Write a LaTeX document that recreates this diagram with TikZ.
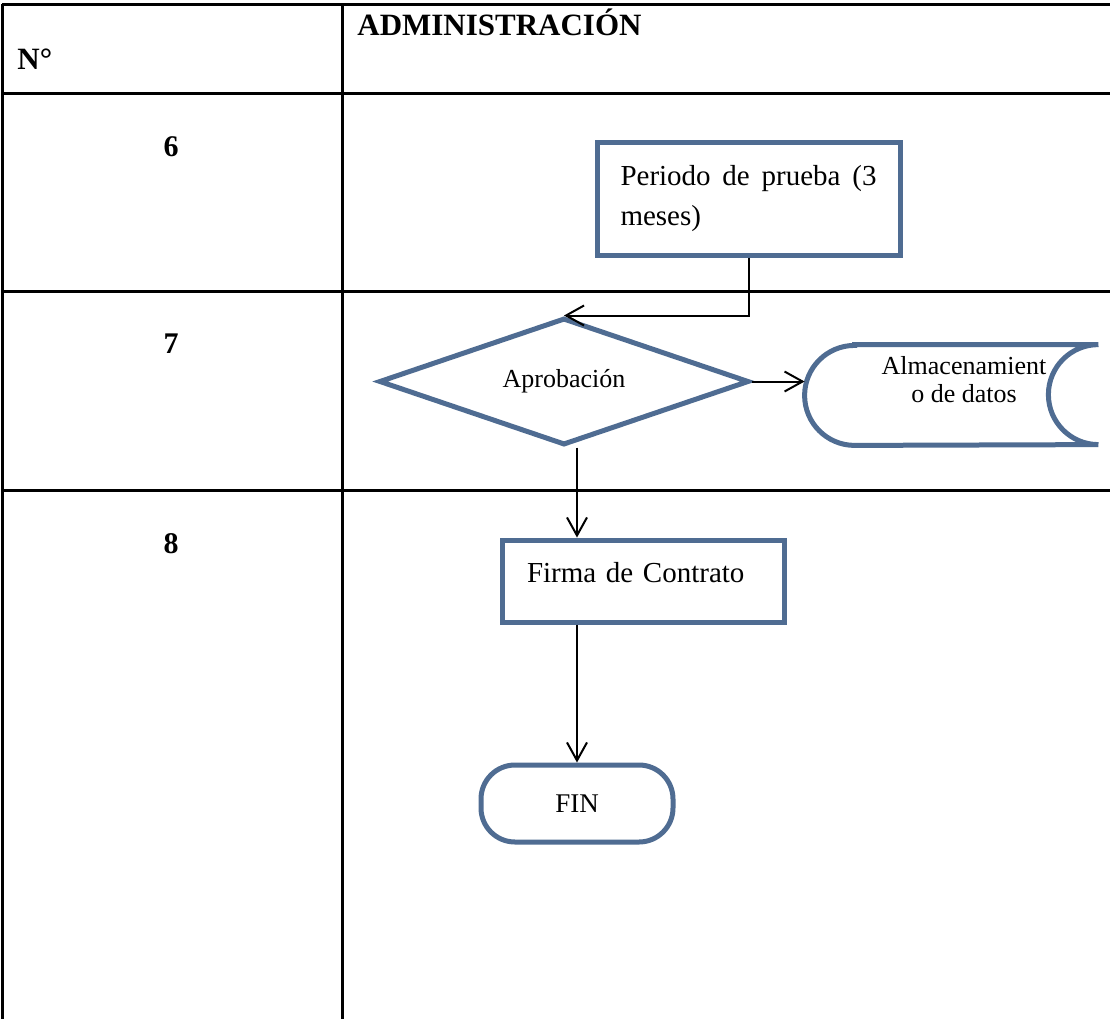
\documentclass[tikz,border=0pt]{standalone}
\usepackage{fontspec}
\setmainfont{Liberation Serif}
\usetikzlibrary{positioning, arrows.meta, shapes.geometric}
\definecolor{shapeblue}{RGB}{79,108,146}

\begin{document}
\begin{tikzpicture}[x=0.5pt, y=-0.5pt,
    % Styles
    tabline/.style={line width=1.5pt, black},
    header/.style={font=\fontsize{15.5}{18}\selectfont\bfseries, inner sep=0pt},
    rownum/.style={font=\fontsize{15}{18}\selectfont\bfseries, inner sep=0pt},
    procbox/.style={draw=shapeblue, line width=2.5pt, fill=white, font=\fontsize{14.5}{20}\selectfont},
    decision/.style={diamond, aspect=2.9, draw=shapeblue, line width=2.5pt, fill=white, minimum width=185pt, minimum height=63.5pt, inner sep=0pt, font=\fontsize{13}{15}\selectfont},
    storeline/.style={draw=shapeblue, line width=2.5pt, line cap=round, fill=white},
    terminal/.style={draw=shapeblue, line width=2.5pt, fill=white, rounded corners=17pt, minimum width=96pt, minimum height=38.5pt, font=\fontsize{13.5}{15}\selectfont},
    arrow/.style={-{Straight Barb[length=9pt, width=10pt]}, line width=1pt, black},
]
\useasboundingbox (0,0) rectangle (1110,1019);

% Table
\draw[tabline] (2,4) -- (1110,4);
\draw[tabline] (2,93) -- (1110,93);
\draw[tabline] (2,291) -- (1110,291);
\draw[tabline] (2,490) -- (1110,490);
\draw[tabline] (2,4) -- (2,1019);
\draw[tabline] (342,4) -- (342,1019);

% Headers
\node[header, anchor=base west] (hdrnum) at (17,69) {N°};
\node[header, anchor=base west] (hdradmin) at (357,35) {ADMINISTRACIÓN};

% Row numbers
\node[rownum, anchor=base] (num6) at (171,156) {6};
\node[rownum, anchor=base] (num7) at (171,353) {7};
\node[rownum, anchor=base] (num8) at (171,553) {8};

% Periodo de prueba
\node[procbox, minimum width=151.5pt, minimum height=56.5pt, text width=128pt, align=justify, inner xsep=11.75pt] (periodo) at (748.5,198.5) {\tolerance=9999 Periodo de prueba (3 meses)};

% Aprobacion
\node[decision] (aprob) at (564,381.5) {Aprobación};
\draw[arrow] (periodo.south) |- (aprob.north);

% Almacenamiento de datos
\node[minimum width=146.5pt, minimum height=50pt, inner sep=0pt] (store) at (951.5,395) {};
\draw[storeline] ([xshift=25pt]store.north west) -- (store.north east)
    arc[start angle=90, end angle=270, radius=25pt]
    -- ([xshift=25pt]store.south west)
    arc[start angle=-90, end angle=-270, radius=25pt] -- cycle;
\node[font=\fontsize{13}{14}\selectfont, align=center, inner sep=0pt] (storetxt) at (964,380) {Almacenamient\\o de datos};
\draw[arrow] (aprob.east) -- (aprob.east -| store.west);

% Firma de Contrato and FIN
\node[procbox, minimum width=141pt, minimum height=41pt, text width=116pt, align=left, inner xsep=12.5pt, text depth=9pt] (firma) at (643,581) {Firma de Contrato};
\node[terminal] (fin) at (577,803.5) {FIN};
\draw[arrow] (fin.north |- aprob.south) -- (fin.north |- firma.north);
\draw[arrow] (fin.north |- firma.south) -- (fin.north);

\end{tikzpicture}
\end{document}
